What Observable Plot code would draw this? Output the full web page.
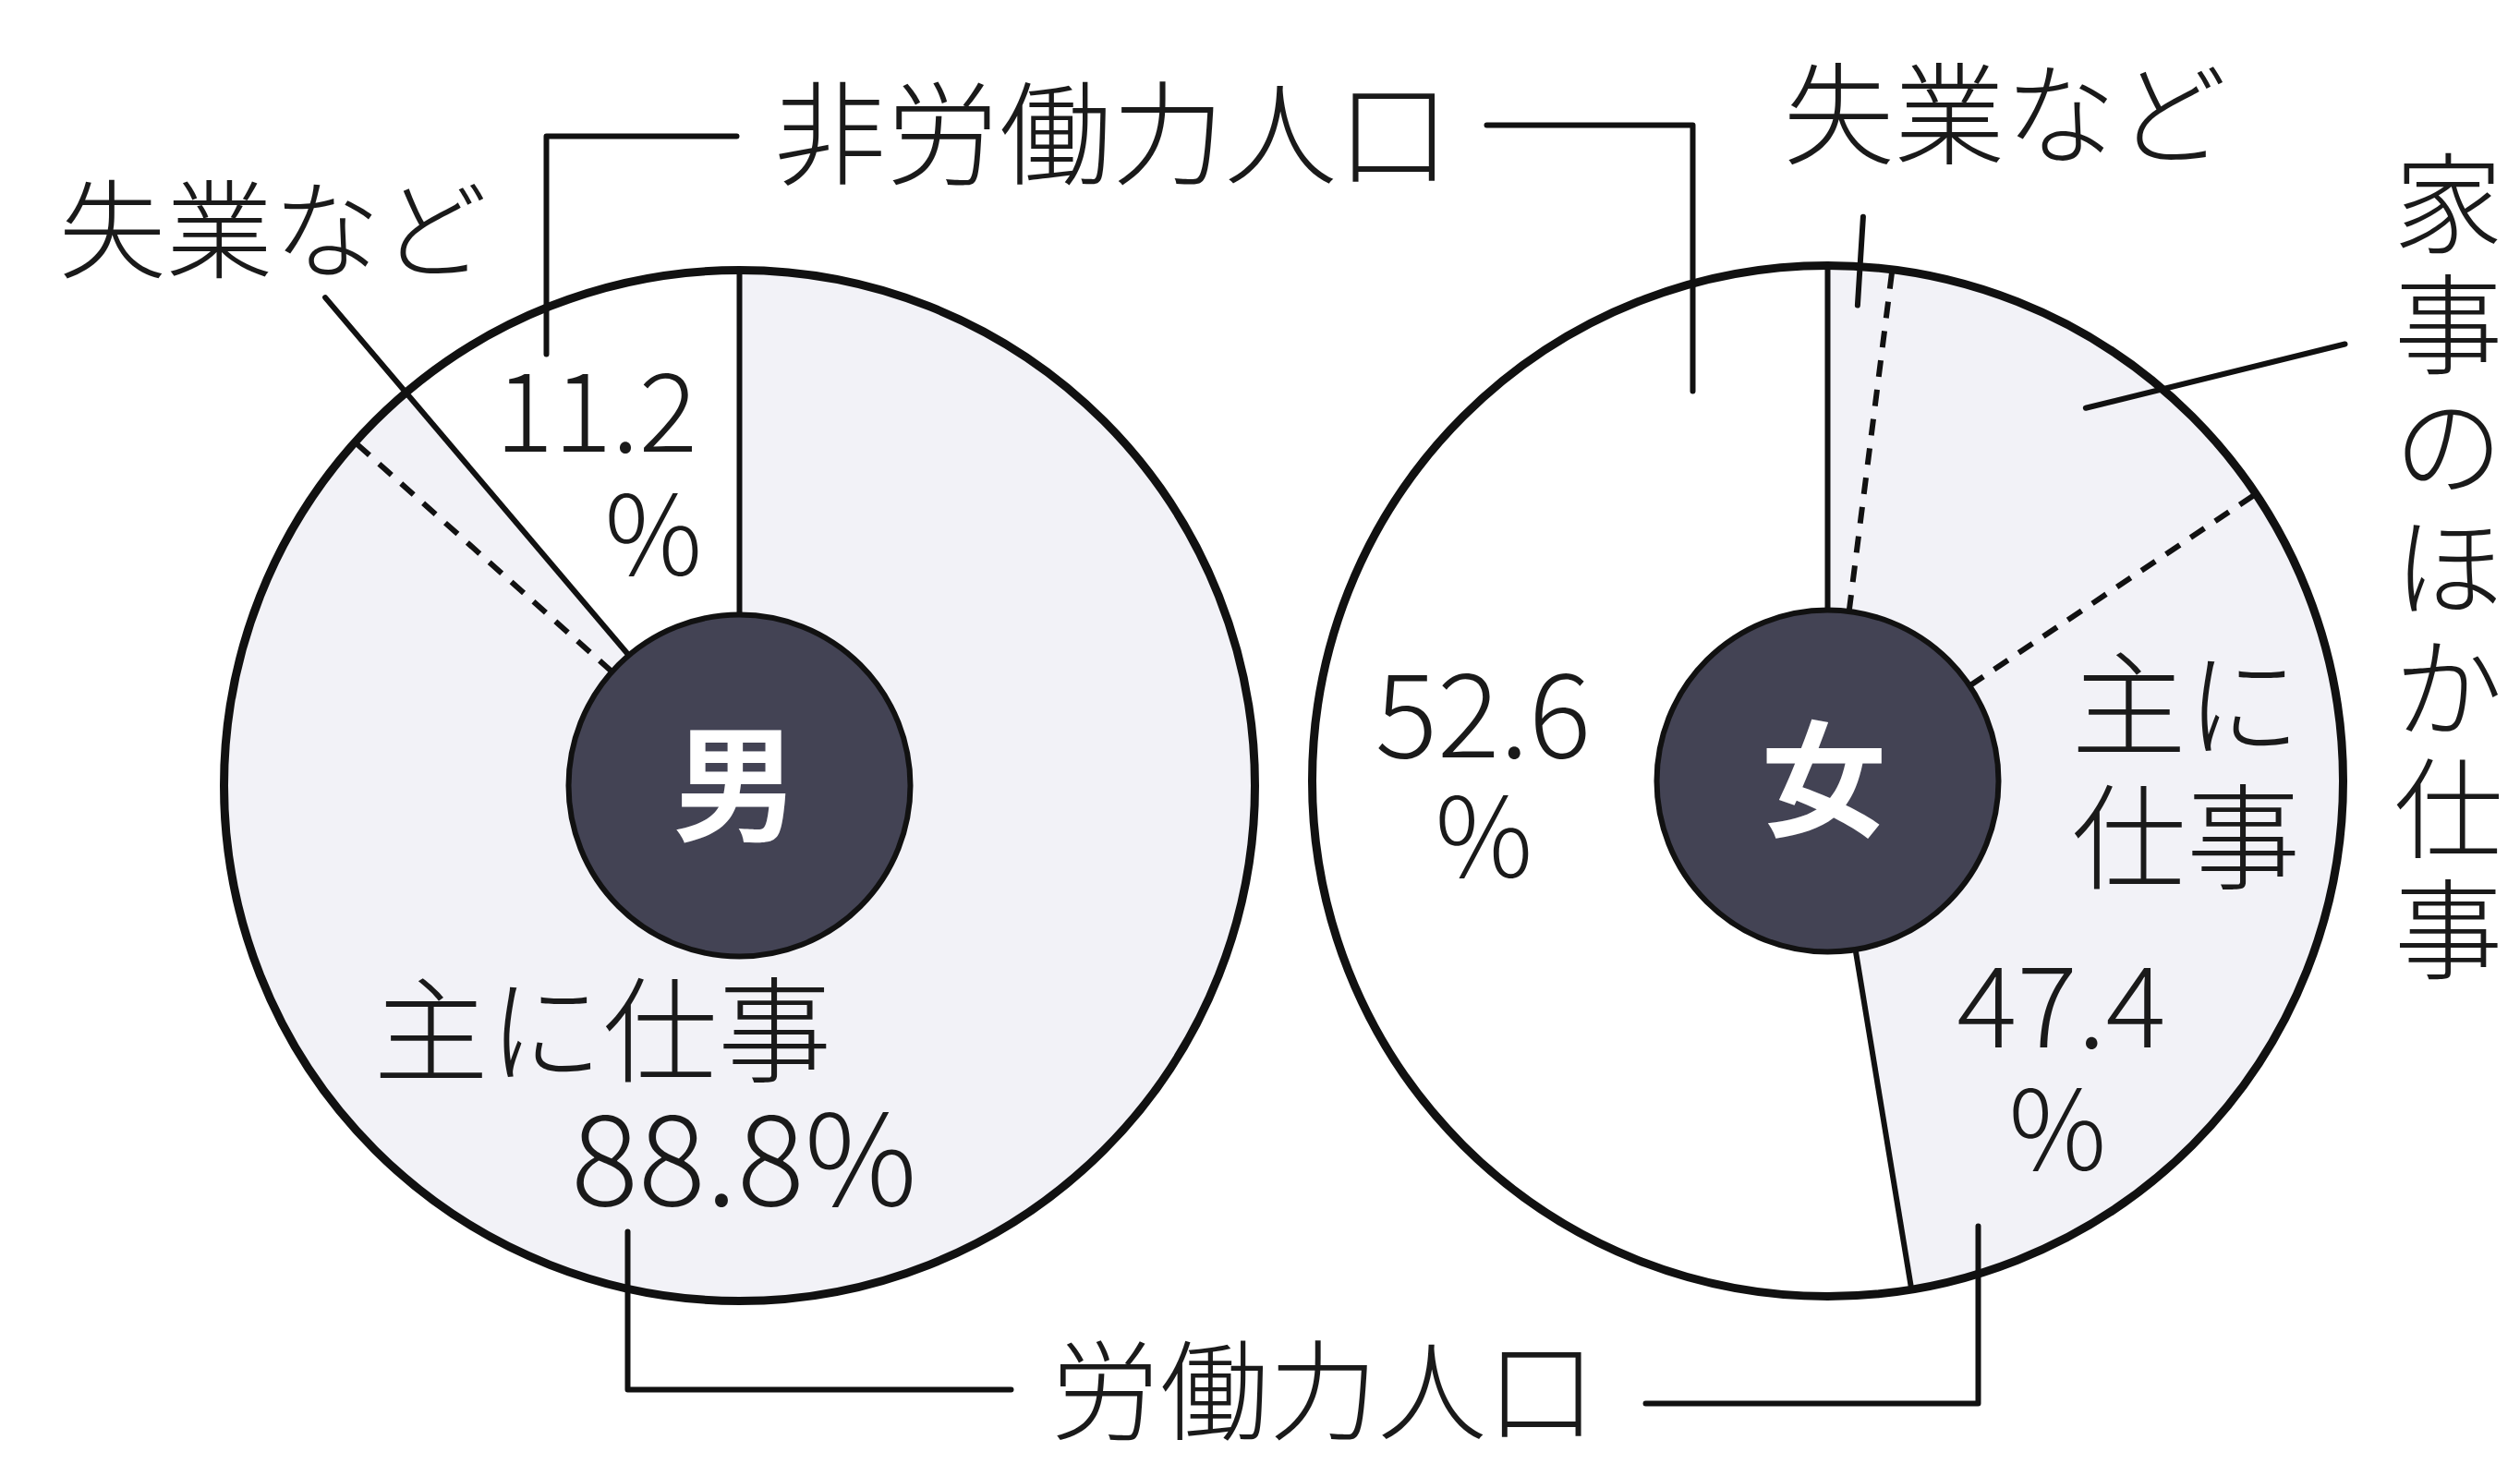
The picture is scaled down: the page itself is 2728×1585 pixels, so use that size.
<!DOCTYPE html>
<html><head><meta charset="utf-8">
<script src="https://cdn.jsdelivr.net/npm/d3@7"></script>
<script src="https://cdn.jsdelivr.net/npm/@observablehq/plot@0.6"></script>
<style>
html,body{margin:0;padding:0;background:#fff;}
#chart svg{display:block;}
g[aria-label="ls2"] text{letter-spacing:2px;}
g[aria-label="ls4"] text{letter-spacing:4px;}
g[aria-label="ls6"] text{letter-spacing:6px;}
g[aria-label="ls8"] text{letter-spacing:8px;}
</style></head><body><div id="chart"></div>
<script>
// ---------------- data ----------------
const groups = ["男", "女"];
const maleCategories = ["主に仕事", "失業など", "非労働力人口"];
const maleValues = [86.6, 2.2, 11.2];
const femaleCategories = ["失業など", "家事のほか仕事", "主に仕事", "非労働力人口"];
const femaleValues = [2.0, 13.6, 31.8, 52.6];
const laborCategories = ["主に仕事", "失業など", "家事のほか仕事"];
const bracketLabels = ["労働力人口", "非労働力人口"];

// ---------------- layout ----------------
const W = 2728, H = 1585;
const PIE = {"男": {cx: 800, cy: 850}, "女": {cx: 1978, cy: 845}};
const R = 558, R0 = 185;
const FONT = "'Noto Sans CJK JP', 'Noto Sans', sans-serif";
const LIGHT = "#f2f2f7", DARK = "#434354", INK = "#111";

const rad = a => a * Math.PI / 180;
const pt = (pie, a, r) => ({x: PIE[pie].cx + r * Math.sin(rad(a)), y: PIE[pie].cy - r * Math.cos(rad(a))});

function segments(pie, cats, vals) {
  const total = d3.sum(vals);
  let acc = 0;
  return cats.map((c, i) => {
    const a0 = acc / total * 360; acc += vals[i];
    const a1 = acc / total * 360;
    return {pie, category: c, value: vals[i], a0, a1, labor: laborCategories.includes(c)};
  });
}
const segs = {"男": segments("男", maleCategories, maleValues), "女": segments("女", femaleCategories, femaleValues)};

// non-labor wedges as closed polygons
const wedgePts = [];
for (const g of groups) for (const s of segs[g]) if (!s.labor) {
  const id = g + s.category;
  wedgePts.push({id, x: PIE[g].cx, y: PIE[g].cy});
  for (let a = s.a0; a <= s.a1 + 1e-9; a += 0.5) wedgePts.push({id, ...pt(g, Math.min(a, s.a1), R)});
}

// boundaries between slices
const bounds = [];
for (const g of groups) {
  const ss = segs[g];
  ss.forEach((s, i) => {
    const prev = ss[(i - 1 + ss.length) % ss.length];
    const solid = prev.labor !== s.labor;
    const p1 = pt(g, s.a0, R0), p2 = pt(g, s.a0, R);
    bounds.push({solid, x1: p1.x, y1: p1.y, x2: p2.x, y2: p2.y});
  });
}

// leader lines and brackets
const leaders = [];
{
  const mu = segs["男"].find(s => s.category === "失業など");
  const a = pt("男", mu.a1, R), b = pt("男", mu.a1, 693);
  leaders.push({id: "m-un", x: a.x, y: a.y}, {id: "m-un", x: b.x, y: b.y});
  const fu = segs["女"].find(s => s.category === "失業など");
  const am = (fu.a0 + fu.a1) / 2;
  const c = pt("女", am, 516), d = pt("女", am, 612);
  leaders.push({id: "f-un", x: c.x, y: c.y}, {id: "f-un", x: d.x, y: d.y});
  const fh = segs["女"].find(s => s.category === "家事のほか仕事");
  const e = pt("女", (fh.a0 + fh.a1) / 2 + 3, 491);
  leaders.push({id: "f-hw", x: e.x, y: e.y}, {id: "f-hw", x: 2538, y: 372});
  leaders.push({id: "nl-l", x: 591, y: 383}, {id: "nl-l", x: 591, y: 147}, {id: "nl-l", x: 797, y: 147});
  leaders.push({id: "nl-r", x: 1609, y: 135}, {id: "nl-r", x: 1832, y: 135}, {id: "nl-r", x: 1832, y: 423});
  leaders.push({id: "l-l", x: 679, y: 1333}, {id: "l-l", x: 679, y: 1504}, {id: "l-l", x: 1094, y: 1504});
  leaders.push({id: "l-r", x: 1781, y: 1519}, {id: "l-r", x: 2141, y: 1519}, {id: "l-r", x: 2141, y: 1327});
}

const val = (g, c) => segs[g].find(s => s.category === c).value;
const laborSum = g => d3.sum(segs[g].filter(s => s.labor), s => s.value);
const fmt = v => v.toFixed(1);

const labels = [
  {text: bracketLabels[1], x: 1203, y: 144, size: 122, ls: "ls8"},
  {text: maleCategories[1], x: 295, y: 248, size: 116, ls: "ls6"},
  {text: femaleCategories[0], x: 2170, y: 124, size: 120, ls: "ls6"},
  {text: fmt(val("男", "非労働力人口")), x: 645, y: 445, size: 118, ls: "ls4"},
  {text: "%", x: 707, y: 578, size: 118, ls: "ls2"},
  {text: maleCategories[0], x: 652, y: 1116, size: 124, ls: "ls6"},
  {text: fmt(laborSum("男")) + "%", x: 805, y: 1255, size: 136, ls: "ls2"},
  {text: fmt(val("女", "非労働力人口")), x: 1605, y: 773, size: 126, ls: "ls4"},
  {text: "%", x: 1606, y: 905, size: 118, ls: "ls2"},
  {text: femaleCategories[2].slice(0, 2), x: 2366, y: 763, size: 124, ls: "ls6"},
  {text: femaleCategories[2].slice(2), x: 2366, y: 907, size: 124, ls: "ls6"},
  {text: fmt(laborSum("女")), x: 2231, y: 1088, size: 122, ls: "ls4"},
  {text: "%", x: 2227, y: 1222, size: 118, ls: "ls2"},
  ...femaleCategories[1].split("").map((ch, i) => ({text: ch, x: 2650, y: 221 + i * 131, size: 118, ls: "ls0"})),
  {text: bracketLabels[0], x: 1432, y: 1508, size: 118, ls: "ls8", dy: 4}
];
const centerLabels = groups.map(g => ({text: g, x: PIE[g].cx - 4, y: PIE[g].cy}));

const textMarks = labels.map(l => Plot.text([l], {
  x: "x", y: "y", text: "text", fontSize: l.size, fontFamily: FONT, fontWeight: 300,
  fill: "#1a1a1a", dy: l.dy ?? 6, ariaLabel: l.ls
}));

const chart = Plot.plot({
  width: W, height: H, margin: 0,
  x: {domain: [0, W], range: [0, W], axis: null},
  y: {domain: [0, H], range: [0, H], axis: null},
  style: {background: "white"},
  marks: [
    Plot.dot(groups, {x: g => PIE[g].cx, y: g => PIE[g].cy, r: R, fill: LIGHT, stroke: "none"}),
    Plot.line(wedgePts, {x: "x", y: "y", z: "id", fill: "white", stroke: "none", curve: "linear-closed"}),
    Plot.link(bounds.filter(b => b.solid), {x1: "x1", y1: "y1", x2: "x2", y2: "y2", stroke: INK, strokeWidth: 6}),
    Plot.link(bounds.filter(b => !b.solid), {x1: "x1", y1: "y1", x2: "x2", y2: "y2", stroke: INK, strokeWidth: 6, strokeDasharray: "18,14"}),
    Plot.line(leaders, {x: "x", y: "y", z: "id", stroke: INK, strokeWidth: 6, curve: "linear"}),
    Plot.dot(groups, {x: g => PIE[g].cx, y: g => PIE[g].cy, r: R, fill: "none", stroke: INK, strokeWidth: 9}),
    Plot.dot(groups, {x: g => PIE[g].cx, y: g => PIE[g].cy, r: R0, fill: DARK, stroke: INK, strokeWidth: 6}),
    ...textMarks,
    Plot.text(centerLabels, {x: "x", y: "y", text: "text", fontSize: 136, fontFamily: FONT, fontWeight: 700, fill: "white", dy: 6})
  ]
});
document.getElementById("chart").appendChild(chart);
</script>
</body></html>
